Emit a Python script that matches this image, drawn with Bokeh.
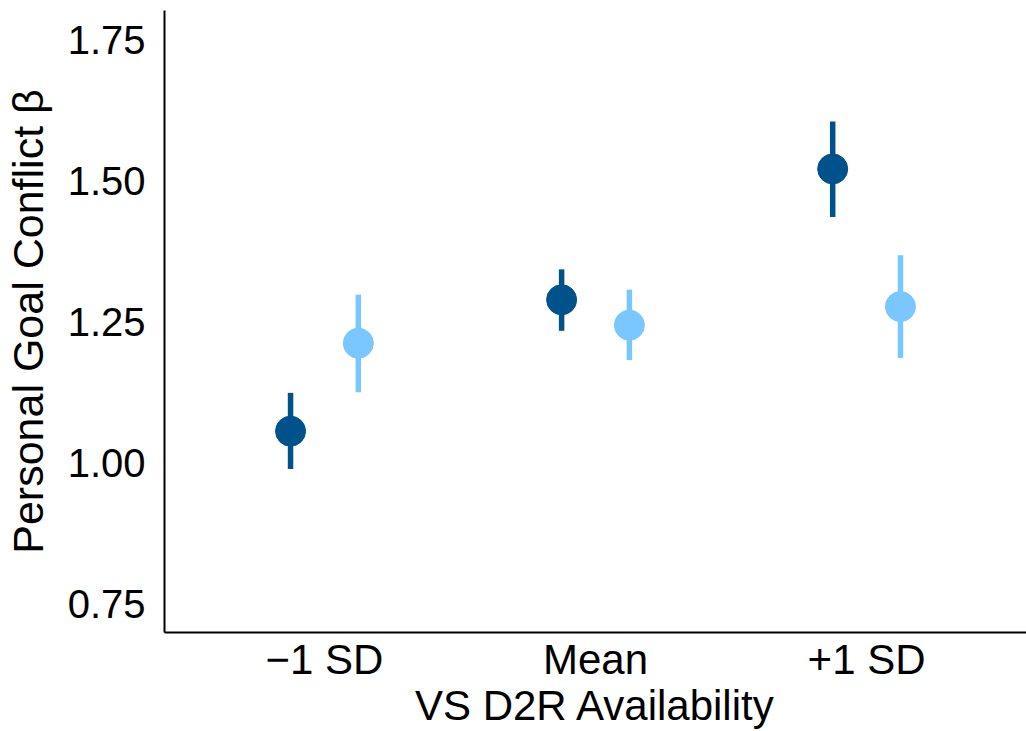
from bokeh.plotting import figure
from bokeh.models import ColumnDataSource, FactorRange, Range1d
from bokeh.transform import dodge
from bokeh.embed import file_html
from bokeh.resources import INLINE

categories = ["\u22121 SD", "Mean", "+1 SD"]

dark_est = [1.057, 1.290, 1.522]
dark_lo = [0.990, 1.235, 1.437]
dark_hi = [1.125, 1.344, 1.606]

light_est = [1.213, 1.245, 1.278]
light_lo = [1.126, 1.183, 1.187]
light_hi = [1.299, 1.308, 1.369]

yticks = [0.75, 1.00, 1.25, 1.50, 1.75]

DARK = "#00528A"
LIGHT = "#7AC7FF"
FONT = "Liberation Sans"

x_range = FactorRange(factors=categories, range_padding=0.09, range_padding_units="absolute")
p = figure(width=1026, height=731, x_range=x_range, y_range=Range1d(0.700, 1.803),
           output_backend="svg", toolbar_location=None,
           min_border_left=164, min_border_right=0, min_border_top=10, min_border_bottom=99)

dark_src = ColumnDataSource(dict(cat=categories, est=dark_est, lo=dark_lo, hi=dark_hi))
light_src = ColumnDataSource(dict(cat=categories, est=light_est, lo=light_lo, hi=light_hi))

for src, off, col in [(dark_src, -0.125, DARK), (light_src, 0.125, LIGHT)]:
    xd = dodge("cat", off, range=p.x_range)
    p.segment(x0=xd, y0="lo", x1=xd, y1="hi", source=src, line_color=col, line_width=5.5)
    p.scatter(x=xd, y="est", source=src, size=30, fill_color=col, line_color=col)

p.outline_line_color = None
p.xgrid.grid_line_color = None
p.ygrid.grid_line_color = None
p.background_fill_color = "white"
p.border_fill_color = "white"

p.yaxis.ticker = yticks
p.yaxis.major_label_overrides = {v: f"{v:.2f}" for v in yticks}

for ax in (p.xaxis[0], p.yaxis[0]):
    ax.axis_line_color = "black"
    ax.axis_line_width = 2
    ax.major_tick_line_color = None
    ax.minor_tick_line_color = None
    ax.major_tick_out = 0
    ax.major_tick_in = 0
    ax.minor_tick_out = 0
    ax.major_label_text_font = FONT
    ax.major_label_text_color = "black"
    ax.axis_label_text_font = FONT
    ax.axis_label_text_font_style = "normal"
    ax.axis_label_text_color = "black"

p.xaxis.major_label_text_font_size = "42px"
p.yaxis.major_label_text_font_size = "40px"
p.xaxis.axis_label_text_font_size = "42px"
p.yaxis.axis_label_text_font_size = "43px"

p.xaxis.axis_label = "VS D2R Availability"
p.yaxis.axis_label = "Personal Goal Conflict \u03b2"
p.xaxis.major_label_standoff = 3
p.yaxis.major_label_standoff = 19
p.xaxis.axis_label_standoff = -4
p.yaxis.axis_label_standoff = 13

open("out.html", "w").write(file_html(p, INLINE))
